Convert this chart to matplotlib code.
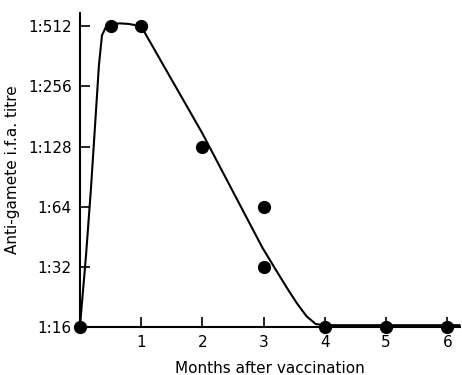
import numpy as np
import matplotlib.pyplot as plt

# measured points: months after vaccination, titre (reciprocal)
months = [0, 0.5, 1, 2, 3, 3, 4, 5, 6]
titre = [16, 512, 512, 128, 64, 32, 16, 16, 16]

# hand-drawn curve (months, log2 titre)
curve_x = [0, 0.1, 0.18, 0.25, 0.31, 0.36, 0.42, 0.5, 0.65, 0.8, 0.95, 1.0,
           2.0, 2.98, 3.2, 3.4, 3.54, 3.7, 3.85, 4.0, 5.0, 6.0, 6.2]
curve_lvl = [4.0, 5.2, 6.3, 7.4, 8.35, 8.85, 8.98, 9.03, 9.05, 9.04, 9.01, 9.0,
             7.22, 5.32, 4.95, 4.62, 4.4, 4.18, 4.05, 4.03, 4.03, 4.03, 4.03]

ytick_vals = [16, 32, 64, 128, 256, 512]
ytick_labels = ['1:16', '1:32', '1:64', '1:128', '1:256', '1:512']
xtick_vals = [1, 2, 3, 4, 5, 6]

plt.rcParams['font.family'] = ['DejaVu Sans']
fig = plt.figure(figsize=(4.62, 3.75), dpi=100)
ax = fig.add_axes([0.173, 0.128, 0.823, 0.837])

ax.set_yscale('log', base=2)
ax.plot(curve_x, 2.0 ** np.array(curve_lvl), color='black', lw=1.5,
        clip_on=False, zorder=2)
ax.plot(months, titre, 'o', color='black', ms=8.5, clip_on=False, zorder=3)

ax.set_xlim(0, 6.21)
ax.set_ylim(16, 16 * 2 ** 5.22)
ax.set_yticks(ytick_vals)
ax.set_yticklabels(ytick_labels)
ax.minorticks_off()
ax.set_xticks(xtick_vals)
ax.set_xticklabels([str(v) for v in xtick_vals])
ax.tick_params(direction='in', length=7, width=1.2, labelsize=11, pad=6)

for s in ['top', 'right']:
    ax.spines[s].set_visible(False)
for s in ['left', 'bottom']:
    ax.spines[s].set_linewidth(1.5)

ax.set_xlabel('Months after vaccination', fontsize=11, labelpad=8)
ax.set_ylabel('Anti-gamete i.f.a. titre', fontsize=11, labelpad=6)

fig.savefig('out.png', dpi=100)
